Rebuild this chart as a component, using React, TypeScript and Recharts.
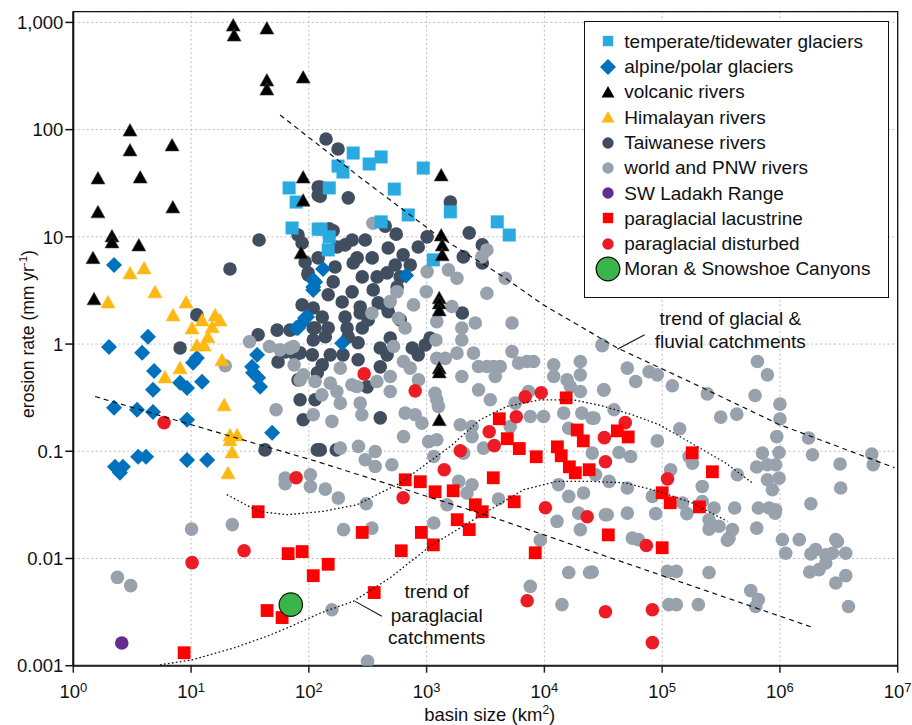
import React from "react";
import { ScatterChart, Scatter, XAxis, YAxis, CartesianGrid, ReferenceArea, Legend } from "recharts";

// ---------- axes ----------
const xTicks = [1, 10, 100, 1e3, 1e4, 1e5, 1e6, 1e7];
const yTicks = [0.001, 0.01, 0.1, 1, 10, 100, 1000];
const yTickLabels = ["0.001", "0.01", "0.1", "1", "10", "100", "1,000"];
const xDomain = [1, 1e7];
const yDomain = [0.001, 1258.9];

// ---------- series (basin size km2, erosion rate mm/yr) ----------
const temperate: [number, number][] = [
  [68, 28.6], [78, 21.1], [72, 12.1], [120, 11.8], [238, 60.5], [177, 45.7], [195, 40.2], [325, 47.8],
  [411, 55.6], [936, 43.8], [149, 28.6], [531, 27.9], [411, 13.8], [698, 16], [1590, 17.1], [3980, 13.8],
  [5030, 10.4], [127, 11.8], [149, 10], [146, 7.55], [1140, 6.1],
];

const alpine: [number, number][] = [
  [2.22, 5.47], [2.01, 0.94], [4.31, 1.17], [3.84, 0.83], [4.85, 0.56], [4.75, 0.374], [2.22, 0.255],
  [3.48, 0.244], [4.75, 0.233], [9.25, 0.197], [8.07, 0.435], [9.25, 0.39], [10.4, 0.668], [11.2, 0.743],
  [12.4, 0.444], [9.25, 0.083], [13.7, 0.083], [3.55, 0.089], [4.15, 0.089], [2.26, 0.0717], [2.64, 0.0717],
  [2.49, 0.063], [33, 0.613], [36.4, 0.793], [33.6, 0.54], [37.1, 0.484], [38.6, 0.4], [48.8, 0.149],
  [87.7, 1.57], [96.6, 1.79], [109, 3.4], [109, 3.95], [78, 1.41], [132, 5.02], [113, 3.8], [109, 3.2],
  [92.9, 1.75], [81, 1.41], [192, 1.02], [670, 4.37],
];

const volcanic: [number, number][] = [
  [1.47, 6.4], [1.5, 2.64], [2.13, 10.2], [2.13, 8.97], [3.6, 8.4], [1.62, 35.4], [1.62, 17.1], [3.03, 99],
  [3.03, 64.6], [3.7, 36.1], [6.9, 72], [7.0, 19], [22.8, 944], [23.2, 762], [44, 885], [44, 290], [44, 239],
  [89.5, 309], [89.5, 36.1], [89.5, 22], [86, 7.1], [1330, 37.8], [1330, 10.4], [1357, 8.4], [1357, 6.8],
  [1280, 2.7], [1280, 2.42], [1280, 2.08], [1280, 0.6], [1280, 0.55], [1280, 0.197],
];

const himalayan: [number, number][] = [
  [3.03, 4.61], [3.99, 5.13], [4.94, 3.07], [1.97, 2.47], [9.07, 2.47], [7.03, 1.87], [10.2, 1.41],
  [12.4, 1.68], [16, 1.87], [17.6, 1.68], [15.1, 1.45], [13.9, 1.17], [11.2, 0.98], [12.9, 0.98],
  [18.3, 0.713], [8.07, 0.6], [6.01, 0.494], [19.1, 0.271], [21.4, 0.142], [24.6, 0.142], [21.4, 0.128],
  [22.3, 0.0986], [20.6, 0.063],
];

const taiwanese: [number, number][] = [
  [21.4, 5.02], [11.2, 1.87], [8.07, 0.92], [37.1, 1.22], [53.8, 1.35], [42.5, 0.103], [62.9, 0.845],
  [54.8, 0.682], [84.3, 0.828], [87.7, 2.32], [98.6, 4.42], [109, 2.17], [113, 1.41], [109, 1.09],
  [84.3, 0.302], [89.5, 0.197], [113, 0.302], [118, 0.103], [37.8, 9.35], [87.7, 8.77], [120, 29.2],
  [120, 24.5], [140, 81.7], [177, 65.9], [125, 29.2], [125, 24], [216, 23.1], [161, 11.4], [149, 11.9],
  [445, 12.6], [552, 10.6], [1010, 10], [1590, 21.1], [2300, 10.9], [81, 10.4], [174, 8.05], [257, 6.36],
  [345, 6.36], [472, 7.88], [632, 6.79], [849, 8.05], [2050, 6.5], [2970, 8.41], [2970, 5.71], [238, 5.71],
  [284, 4.23], [380, 4.23], [462, 4.61], [597, 4.23], [167, 5.24], [161, 3.8], [98.6, 4.61], [146, 2.88],
  [233, 3.07], [352, 3.2], [562, 3.41], [273, 2.22], [388, 2.42], [462, 2.22], [130, 1.79], [203, 1.79],
  [273, 1.95], [472, 2], [2010, 1.95], [109, 1.41], [146, 1.41], [211, 1.41], [284, 1.41], [138, 1.17],
  [216, 1.17], [491, 1.14], [262, 1.03], [404, 0.92], [755, 0.92], [973, 0.98], [1070, 1.14], [107, 0.793],
  [152, 0.793], [195, 0.793], [130, 0.64], [262, 0.713], [462, 0.793], [404, 0.613], [849, 0.793],
  [76.5, 0.793], [81, 0.463], [118, 0.539], [313, 0.399], [404, 0.205], [125, 0.103], [171, 0.103],
  [69.3, 1.35], [93, 5.83], [203, 8.41], [301, 9.35], [726, 5.47], [541, 5.47], [192, 2.47], [319, 1.68],
  [597, 1.68], [120, 6.36], [233, 9.35],
];

const world: [number, number][] = [
  [31.3, 1.05], [19.5, 0.627], [52.7, 0.244], [46.3, 0.948], [57, 0.883], [69.3, 0.916], [84.3, 0.463],
  [113, 0.447], [109, 0.219], [62.9, 0.0562], [103, 0.0604], [10.1, 0.0188], [22.4, 0.0207], [2.37, 0.00667],
  [3.07, 0.00558], [62.9, 0.0498], [103, 0.047], [74, 0.948], [75, 0.64], [90, 0.516], [152, 0.432],
  [185, 0.596], [173, 0.361], [232, 0.417], [343, 1.94], [491, 2.49], [560, 3.08], [774, 2.32], [1010, 4.74],
  [993, 3.08], [577, 1.74], [658, 1.41], [524, 0.948], [637, 0.687], [726, 0.596], [853, 0.463], [491, 0.498],
  [378, 0.447], [256, 0.402], [185, 0.281], [273, 0.281], [282, 0.219], [157, 0.19], [129, 0.336],
  [185, 0.107], [264, 0.111], [301, 0.0834], [366, 0.0996], [366, 0.0721], [507, 0.0748], [637, 0.137],
  [658, 0.227], [800, 0.219], [912, 0.183], [1040, 0.123], [1220, 0.128], [1150, 0.0894], [491, 0.361],
  [1220, 0.736], [1440, 0.736], [1200, 1.09], [1220, 1.62], [1640, 2.24], [1990, 1.41], [1990, 1.09],
  [2590, 1.57], [1810, 0.823], [2500, 0.823], [2760, 0.617], [3250, 0.617], [3700, 0.617], [4220, 0.617],
  [3830, 0.498], [1990, 0.498], [2760, 0.374], [3470, 0.302], [5310, 0.851], [5310, 1.57], [6040, 0.664],
  [7110, 0.687], [8090, 0.687], [7340, 0.361], [5660, 0.281], [7590, 0.211], [9840, 0.211], [12000, 0.64],
  [12000, 0.498], [15600, 0.463], [20200, 0.687], [20200, 0.516], [16600, 0.402], [20200, 0.361],
  [31800, 0.374], [25400, 0.204], [20800, 0.227], [14600, 0.227], [16100, 0.164], [2430, 0.17], [1930, 0.177],
  [2430, 0.137], [3040, 0.107], [5130, 0.17], [3250, 7.55], [2950, 6.54], [1810, 4.11], [1530, 4.92],
  [3250, 2.98], [4650, 4.11], [30800, 0.984], [2060, 0.0962], [1220, 0.302], [1260, 0.262], [1180, 0.348],
  [350, 13.4], [138, 0.0444], [178, 0.0366], [307, 0.0324], [197, 0.0186], [343, 0.0192], [157, 0.00333],
  [315, 0.0011], [1150, 0.0214], [1490, 0.0317], [1870, 0.0524], [2430, 0.0488], [2200, 0.0408],
  [4080, 0.0359], [9230, 0.0148], [7590, 0.0055], [14100, 0.00371], [16100, 0.00741], [24200, 0.00741],
  [13200, 0.0488], [16100, 0.038], [21500, 0.0408], [19500, 0.0265], [20200, 0.0186], [12800, 0.0222],
  [32900, 0.0256], [31000, 0.964], [50600, 0.596], [59600, 0.447], [77400, 0.551], [91000, 0.516],
  [122000, 0.408], [32100, 0.374], [39000, 0.244], [26400, 0.204], [242000, 0.343], [314000, 0.208],
  [430000, 0.222], [644000, 0.687], [783000, 0.516], [615000, 0.331], [1.0e6, 0.275], [1.0e6, 0.2],
  [940000, 0.137], [710000, 0.0962], [984000, 0.0975], [635000, 0.0713], [783000, 0.0748], [920000, 0.0748],
  [783000, 0.0542], [984000, 0.0562], [863000, 0.0438], [1.75e6, 0.133], [1.89e6, 0.0927], [3.24e6, 0.076],
  [3.28e6, 0.0454], [6.03e6, 0.0942], [6.19e6, 0.0748], [141000, 0.162], [91000, 0.125], [43000, 0.0975],
  [54000, 0.0894], [169000, 0.0894], [181000, 0.0776], [435000, 0.0604], [219000, 0.047], [50600, 0.0454],
  [82600, 0.038], [149000, 0.0329], [219000, 0.034], [276000, 0.0296], [413000, 0.0296], [656000, 0.0296],
  [809000, 0.0296], [920000, 0.0285], [1.83e6, 0.0324], [88100, 0.0262], [50600, 0.0265], [34200, 0.0256],
  [25500, 0.0962], [250000, 0.023], [304000, 0.02], [395000, 0.0186], [635000, 0.0192], [118000, 0.0673],
  [35400, 0.0524], [27200, 0.0604], [55800, 0.0155], [370000, 0.0155], [1.05e6, 0.015], [1.46e6, 0.015],
  [2.98e6, 0.015], [162000, 0.0262], [910000, 0.0265], [250000, 0.0188], [358000, 0.0148], [62800, 0.015],
  [1.12e6, 0.0112], [1.83e6, 0.011], [2.01e6, 0.0121], [2.45e6, 0.0108], [2.79e6, 0.0112], [3.08e6, 0.0144],
  [3.62e6, 0.0112], [2.45e6, 0.00908], [2.15e6, 0.00787], [1.79e6, 0.00749], [2.98e6, 0.00591],
  [3.62e6, 0.00692], [3.82e6, 0.00357], [25500, 0.00749], [111000, 0.00759], [132000, 0.00759],
  [250000, 0.00741], [565000, 0.00501], [656000, 0.00413], [623000, 0.00357], [114000, 0.00371],
  [132000, 0.00371], [203000, 0.00371],
];

const ladakh: [number, number][] = [[2.58, 0.00163]];

const lacustrine: [number, number][] = [
  [8.73, 0.00132], [37.1, 0.0273], [66.7, 0.0111], [87.7, 0.0116], [109, 0.00691], [44.2, 0.00327],
  [59.3, 0.00281], [146, 0.00883], [284, 0.0175], [359, 0.00481], [609, 0.0118], [902, 0.0175],
  [1140, 0.0134], [658, 0.0542], [883, 0.052], [1180, 0.0419], [1680, 0.0428], [2590, 0.0317],
  [2970, 0.0273], [1820, 0.023], [2300, 0.0186], [5540, 0.0338], [8360, 0.0113], [3680, 0.0566],
  [4140, 0.201], [4840, 0.131], [6120, 0.106], [8530, 0.0889], [12900, 0.11], [13900, 0.0908],
  [16300, 0.0716], [18300, 0.063], [19000, 0.158], [21400, 0.125], [24000, 0.0673], [15300, 0.315],
  [41600, 0.155], [51500, 0.136], [180000, 0.0968], [267000, 0.0644], [100000, 0.041], [117000, 0.0331],
  [207000, 0.0303], [34900, 0.0166], [100000, 0.0126],
];

const disturbed: [number, number][] = [
  [5.9, 0.185], [10.2, 0.00914], [28.2, 0.0118], [78, 0.0566], [295, 0.527], [800, 0.366], [6870, 0.322],
  [9400, 0.351], [5770, 0.21], [3400, 0.152], [3750, 0.113], [1930, 0.101], [1410, 0.0673], [32300, 0.134],
  [33000, 0.0798], [632, 0.0369], [10200, 0.0297], [23100, 0.0245], [7140, 0.00404], [33000, 0.00319],
  [48600, 0.185], [111000, 0.0553], [73400, 0.0132], [82600, 0.00333], [82600, 0.00164],
];

const moran: [number, number][] = [[70.3, 0.00371]];

// ---------- trend curves ----------
const trendGlacialFluvial: [number, number][] = [
  [57, 137], [273, 35.8], [1220, 10.4], [4480, 4.24], [9800, 2.32], [41600, 0.92], [211000, 0.4],
  [995000, 0.177], [9.4e6, 0.0702],
];
const trendLowerBound: [number, number][] = [[1.53, 0.324], [117, 0.0803], [3470, 0.0247], [1.95e6, 0.00225]];
const trendParaUpper: [number, number][] = [
  [20.1, 0.0394], [37.3, 0.0275], [65, 0.0256], [132, 0.0275], [256, 0.0317], [597, 0.0506], [1590, 0.111],
  [2850, 0.197], [4810, 0.262], [9230, 0.302], [17700, 0.302], [31000, 0.265], [55800, 0.219],
  [94100, 0.177], [158000, 0.128], [347000, 0.0776], [583000, 0.0506],
];
const trendParaLower: [number, number][] = [
  [5.45, 0.00102], [10.1, 0.00113], [22.9, 0.00146], [44, 0.00188], [69.3, 0.00231], [125, 0.0031],
  [238, 0.00398], [491, 0.00662], [1070, 0.013], [2500, 0.023], [6650, 0.0438], [12800, 0.0524],
  [25500, 0.0524], [49000, 0.0506], [94100, 0.0422], [181000, 0.0329], [358000, 0.0222],
];
const pointerGlacial: [number, number][] = [[41600, 0.896], [71000, 1.22]];
const pointerPara: [number, number][] = [[247, 0.00398], [417, 0.00289]];

// ---------- styling ----------
const FONT = "'Liberation Sans', Arial, Helvetica, sans-serif";
const C = {
  temperate: "#29ABE2",
  alpine: "#0071BC",
  volcanic: "#000000",
  himalayan: "#FDB813",
  taiwanese: "#414E5F",
  world: "#98A2AD",
  ladakh: "#662D91",
  lacustrine: "#FF0000",
  disturbed: "#ED1C24",
  moran: "#39B54A",
};

const toPts = (arr: [number, number][]) => arr.map(([x, y]) => ({ x, y }));

const squareShape = (color: string, s: number) => (p: any) =>
  p.cx == null ? <g /> : <rect x={p.cx - s / 2} y={p.cy - s / 2} width={s} height={s} fill={color} />;
const circleShape = (color: string, r: number, stroke?: string) => (p: any) =>
  p.cx == null ? <g /> : <circle cx={p.cx} cy={p.cy} r={r} fill={color} stroke={stroke || "none"} strokeWidth={stroke ? 1.2 : 0} />;
const diamondShape = (color: string, h: number) => (p: any) =>
  p.cx == null ? <g /> : (
    <polygon points={`${p.cx},${p.cy - h} ${p.cx + h},${p.cy} ${p.cx},${p.cy + h} ${p.cx - h},${p.cy}`} fill={color} />
  );
const triangleShape = (color: string, w: number, h: number) => (p: any) =>
  p.cx == null ? <g /> : (
    <polygon
      points={`${p.cx},${p.cy - h * 0.52} ${p.cx + w / 2},${p.cy + h * 0.48} ${p.cx - w / 2},${p.cy + h * 0.48}`}
      fill={color}
      stroke={color === "#000000" ? "#444" : color}
      strokeWidth={0.6}
    />
  );
const noShape = () => <g />;

const XTick = (props: any) => {
  const { x, y, payload } = props;
  const exp = Math.round(Math.log10(payload.value));
  return (
    <text x={x} y={y + 23.5} textAnchor="middle" fontSize={18.5} fontFamily={FONT} fill="#111">
      <tspan>10</tspan>
      <tspan dy={-6} fontSize={13}>{exp}</tspan>
    </text>
  );
};
const YTick = (props: any) => {
  const { x, y, payload } = props;
  const i = yTicks.findIndex((t) => Math.abs(Math.log10(t) - Math.log10(payload.value)) < 1e-6);
  return (
    <text x={x} y={y} dy="0.36em" textAnchor="end" fontSize={18.5} fontFamily={FONT} fill="#111">
      {i >= 0 ? yTickLabels[i] : ""}
    </text>
  );
};

const legendItems = [
  { label: "temperate/tidewater glaciers", kind: "square", color: C.temperate },
  { label: "alpine/polar glaciers", kind: "diamond", color: C.alpine },
  { label: "volcanic rivers", kind: "triangle", color: C.volcanic },
  { label: "Himalayan rivers", kind: "triangle", color: C.himalayan },
  { label: "Taiwanese rivers", kind: "circle", color: C.taiwanese },
  { label: "world and PNW rivers", kind: "circle", color: C.world },
  { label: "SW Ladakh Range", kind: "circle", color: C.ladakh },
  { label: "paraglacial lacustrine", kind: "square", color: C.lacustrine },
  { label: "paraglacial disturbed", kind: "circle", color: C.disturbed },
  { label: "Moran & Snowshoe Canyons", kind: "big", color: C.moran },
];

const LegendIcon = ({ kind, color }: { kind: string; color: string }) => {
  const s = 26;
  const c = s / 2;
  let el: any = null;
  if (kind === "square") el = <rect x={c - 5.2} y={c - 5.2} width={10.4} height={10.4} fill={color} />;
  else if (kind === "diamond")
    el = <polygon points={`${c},${c - 8} ${c + 8},${c} ${c},${c + 8} ${c - 8},${c}`} fill={color} />;
  else if (kind === "triangle")
    el = <polygon points={`${c},${c - 6} ${c + 6.5},${c + 5.5} ${c - 6.5},${c + 5.5}`} fill={color} />;
  else if (kind === "circle") el = <circle cx={c} cy={c} r={5.7} fill={color} />;
  else el = <circle cx={c} cy={c} r={11.8} fill={color} stroke="#000" strokeWidth={1.2} />;
  return (
    <svg width={s} height={s} style={{ position: "absolute", left: 22.7 - c, top: 12.65 - c, overflow: "visible" }}>
      {el}
    </svg>
  );
};

const LegendBox = () => (
  <div
    style={{
      position: "relative",
      width: 304.4,
      height: 277,
      boxSizing: "border-box",
      border: "1.3px solid #111",
      background: "#fff",
      fontFamily: FONT,
      fontSize: 19,
      color: "#111",
    }}
  >
    {legendItems.map((it, i) => (
      <div key={it.label} style={{ position: "absolute", left: 0, top: 21 - 12.65 + i * 25.3 - 1.3, height: 25.3, width: "100%" }}>
        <LegendIcon kind={it.kind} color={it.color} />
        <div style={{ position: "absolute", left: 39, top: 0, lineHeight: "25.3px", whiteSpace: "nowrap" }}>{it.label}</div>
      </div>
    ))}
  </div>
);

export default function App() {
  const W = 904;
  const H = 717;
  return (
    <>
      <style>{"html,body{margin:0;padding:0;overflow:hidden;background:#fff}.recharts-surface{overflow:visible}"}</style>
      <div style={{ position: "absolute", left: 8, top: 8, width: W, height: H, background: "#fff" }}>
        <ScatterChart width={W} height={H} margin={{ top: 3.7, right: 14.3, bottom: 19.3, left: 0 }}>
          <CartesianGrid stroke="#bdbdbd" strokeDasharray="2 2.5" strokeWidth={1} />
          <XAxis
            type="number"
            dataKey="x"
            scale="log"
            domain={xDomain}
            ticks={xTicks}
            allowDataOverflow
            interval={0}
            height={40}
            tickSize={7}
            tick={<XTick />}
            axisLine={{ stroke: "#222", strokeWidth: 2 }}
            tickLine={{ stroke: "#222", strokeWidth: 1.5 }}
          />
          <YAxis
            type="number"
            dataKey="y"
            scale="log"
            domain={yDomain}
            ticks={yTicks}
            allowDataOverflow
            interval={0}
            width={65.3}
            tickSize={8}
            tick={<YTick />}
            axisLine={{ stroke: "#111", strokeWidth: 2 }}
            tickLine={{ stroke: "#111", strokeWidth: 1.5 }}
          />
          <ReferenceArea x1={xDomain[0]} x2={xDomain[1]} y1={yDomain[0]} y2={yDomain[1]} fill="none" fillOpacity={0} stroke="#111" strokeWidth={1.3} />
          <Legend
            layout="vertical"
            verticalAlign="middle"
            align="center"
            content={() => <LegendBox />}
            wrapperStyle={{ position: "absolute", left: 576.3, top: 12.7, width: 304.4, height: 277, margin: 0, padding: 0 }}
          />
          <Scatter name="Taiwanese rivers" data={toPts(taiwanese)} shape={circleShape(C.taiwanese, 6.8)} isAnimationActive={false} legendType="none" />
          <Scatter name="world and PNW rivers" data={toPts(world)} shape={circleShape(C.world, 6.8)} isAnimationActive={false} legendType="none" />
          <Scatter name="alpine/polar glaciers" data={toPts(alpine)} shape={diamondShape(C.alpine, 8)} isAnimationActive={false} legendType="none" />
          <Scatter name="Himalayan rivers" data={toPts(himalayan)} shape={triangleShape(C.himalayan, 14, 12.5)} isAnimationActive={false} legendType="none" />
          <Scatter name="temperate/tidewater glaciers" data={toPts(temperate)} shape={squareShape(C.temperate, 13)} isAnimationActive={false} legendType="none" />
          <Scatter name="volcanic rivers" data={toPts(volcanic)} shape={triangleShape(C.volcanic, 14, 12.5)} isAnimationActive={false} legendType="none" />
          <Scatter name="SW Ladakh Range" data={toPts(ladakh)} shape={circleShape(C.ladakh, 6.8)} isAnimationActive={false} legendType="none" />
          <Scatter name="paraglacial disturbed" data={toPts(disturbed)} shape={circleShape(C.disturbed, 6.8)} isAnimationActive={false} legendType="none" />
          <Scatter name="paraglacial lacustrine" data={toPts(lacustrine)} shape={squareShape(C.lacustrine, 12.8)} isAnimationActive={false} legendType="none" />
          <Scatter data={toPts(trendGlacialFluvial)} shape={noShape} line={{ stroke: "#111", strokeWidth: 1.2, strokeDasharray: "5 4", fill: "none" }} lineType="joint" isAnimationActive={false} legendType="none" />
          <Scatter data={toPts(trendLowerBound)} shape={noShape} line={{ stroke: "#111", strokeWidth: 1.2, strokeDasharray: "5 4", fill: "none" }} lineType="joint" isAnimationActive={false} legendType="none" />
          <Scatter data={toPts(trendParaUpper)} shape={noShape} line={{ stroke: "#111", strokeWidth: 1.3, strokeDasharray: "1.6 2.4", fill: "none" }} lineType="joint" isAnimationActive={false} legendType="none" />
          <Scatter data={toPts(trendParaLower)} shape={noShape} line={{ stroke: "#111", strokeWidth: 1.3, strokeDasharray: "1.6 2.4", fill: "none" }} lineType="joint" isAnimationActive={false} legendType="none" />
          <Scatter data={toPts(pointerGlacial)} shape={noShape} line={{ stroke: "#111", strokeWidth: 1.1, fill: "none" }} lineType="joint" isAnimationActive={false} legendType="none" />
          <Scatter data={toPts(pointerPara)} shape={noShape} line={{ stroke: "#111", strokeWidth: 1.1, fill: "none" }} lineType="joint" isAnimationActive={false} legendType="none" />
          <Scatter name="Moran & Snowshoe Canyons" data={toPts(moran)} shape={circleShape(C.moran, 11.7, "#111")} isAnimationActive={false} legendType="none" />
        </ScatterChart>
        <svg width={W} height={H} style={{ position: "absolute", left: 0, top: 0, pointerEvents: "none", overflow: "visible" }} fontFamily={FONT} fill="#111">
          <text transform="translate(25.5,326) rotate(-90)" textAnchor="middle" fontSize={17.5}>
            erosion rate (mm yr<tspan dy={-7} fontSize={11.5}>-1</tspan><tspan dy={7}>)</tspan>
          </text>
          <text x={481.7} y={713.3} textAnchor="middle" fontSize={18.5}>
            basin size (km<tspan dy={-7} fontSize={12}>2</tspan><tspan dy={7}>)</tspan>
          </text>
          <text x={722.3} y={316.8} textAnchor="middle" fontSize={19}>trend of glacial &amp;</text>
          <text x={722.3} y={340.2} textAnchor="middle" fontSize={19}>fluvial catchments</text>
          <text x={428.7} y={590.3} textAnchor="middle" fontSize={19}>trend of</text>
          <text x={428.7} y={613.5} textAnchor="middle" fontSize={19}>paraglacial</text>
          <text x={428.7} y={635.5} textAnchor="middle" fontSize={19}>catchments</text>
        </svg>
      </div>
    </>
  );
}
